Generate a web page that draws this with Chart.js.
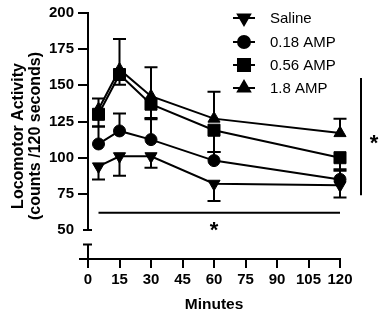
<!DOCTYPE html>
<html>
<head>
<meta charset="utf-8">
<script src="https://cdn.jsdelivr.net/npm/chart.js@4/dist/chart.umd.min.js"></script>
<style>
  html, body { margin: 0; padding: 0; background: #fff; }
  #wrap { width: 383px; height: 314px; }
</style>
</head>
<body>
<div id="wrap"><canvas id="loco-chart"></canvas></div>
<script>
const minutes = [5, 15, 30, 60, 120];
const xTicks = [0, 15, 30, 45, 60, 75, 90, 105, 120];
const yTicks = [50, 75, 100, 125, 150, 175, 200];

const saline = [94, 101, 101, 82, 81];
const amp018 = [109.5, 118.5, 112.5, 98, 85];
const amp056 = [130, 157.5, 137, 119, 100];
const amp18 = [133.5, 161, 142.5, 127, 117];

// SEM, drawn one side only (as in the figure)
const salineErr = [9, 13.5, 8, 12, 8.5];
const amp018Err = [12, 12, 14, 6, 6];
const amp056Err = [8.5, 7, 9.5, 15, 8];
const amp18Err = [7.5, 21, 20, 18.5, 10];

const seriesNames = ['Saline', '0.18 AMP', '0.56 AMP', '1.8 AMP'];

// significance marks, in data units
const timeSigFrom = 5, timeSigTo = 120, timeSigAt = 62;
const doseSigTop = 155, doseSigBottom = 74;

const ink = '#000';

function series(label, data, err, dir, style, radius, rotation) {
    return {
        label: label,
        data: minutes.map((m, i) => ({ x: m, y: data[i] })),
        err: err,
        errDir: dir,
        borderColor: ink,
        backgroundColor: ink,
        borderWidth: 2,
        pointStyle: style,
        pointRadius: radius,
        pointRotation: rotation,
        pointBackgroundColor: ink,
        pointBorderColor: ink,
        pointBorderWidth: 1,
        tension: 0,
        clip: false
    };
}

const datasets = [
    series(seriesNames[0], saline, salineErr, -1, 'triangle', 7, 180),
    series(seriesNames[1], amp018, amp018Err, 1, 'circle', 6, 0),
    series(seriesNames[2], amp056, amp056Err, -1, 'rect', 8.5, 0),
    series(seriesNames[3], amp18, amp18Err, 1, 'triangle', 7, 0)
];

const errorBars = {
    id: 'errorBars',
    beforeDatasetsDraw(chart) {
        const c = chart.ctx, xs = chart.scales.x, ys = chart.scales.y;
        c.save();
        c.strokeStyle = ink;
        c.lineWidth = 2;
        chart.data.datasets.forEach(ds => {
            ds.data.forEach((p, i) => {
                const x = xs.getPixelForValue(p.x);
                const y0 = ys.getPixelForValue(p.y);
                const y1 = ys.getPixelForValue(p.y + ds.errDir * ds.err[i]);
                c.beginPath();
                c.moveTo(x, y0); c.lineTo(x, y1);
                c.moveTo(x - 6.5, y1); c.lineTo(x + 6.5, y1);
                c.stroke();
            });
        });
        c.restore();
    }
};

const axesAndMarks = {
    id: 'axesAndMarks',
    afterDatasetsDraw(chart) {
        const c = chart.ctx, a = chart.chartArea;
        const xs = chart.scales.x, ys = chart.scales.y;
        c.save();
        c.strokeStyle = ink;
        c.fillStyle = ink;
        c.lineWidth = 2;
        c.lineCap = 'butt';

        // broken y axis
        const yTop = ys.getPixelForValue(200);
        const y50 = ys.getPixelForValue(50);
        const yLow = ys.getPixelForValue(40);
        c.beginPath();
        c.moveTo(a.left, yTop - 1); c.lineTo(a.left, y50);
        c.moveTo(a.left - 5, y50); c.lineTo(a.left + 4, y50);
        c.moveTo(a.left, yLow); c.lineTo(a.left, a.bottom);
        c.moveTo(a.left - 5, yLow); c.lineTo(a.left + 4, yLow);
        // x axis
        c.moveTo(a.left - 9, a.bottom); c.lineTo(a.right + 1, a.bottom);
        c.stroke();

        // time effect bar
        const ty = ys.getPixelForValue(timeSigAt);
        c.beginPath();
        c.moveTo(xs.getPixelForValue(timeSigFrom), ty);
        c.lineTo(xs.getPixelForValue(timeSigTo), ty);
        c.stroke();
        c.font = 'bold 22px "Liberation Sans", Arial, sans-serif';
        c.textAlign = 'center';
        c.textBaseline = 'middle';
        c.fillText('*', xs.getPixelForValue(60), ty + 18);

        // dose effect bar
        const vx = a.right + 21;
        c.beginPath();
        c.moveTo(vx, ys.getPixelForValue(doseSigTop));
        c.lineTo(vx, ys.getPixelForValue(doseSigBottom));
        c.stroke();
        c.fillText('*', vx + 13, (ys.getPixelForValue(doseSigTop) + ys.getPixelForValue(doseSigBottom)) / 2 + 7);

        // legend
        const lx = a.right - 96;
        const rows = [18, 42, 65, 88];
        c.font = '15px "Liberation Sans", Arial, sans-serif';
        c.textAlign = 'left';
        chart.data.datasets.forEach((ds, i) => {
            const ly = rows[i];
            c.beginPath();
            c.moveTo(lx - 11, ly); c.lineTo(lx + 11, ly);
            c.stroke();
            if (Chart.helpers && Chart.helpers.drawPoint) {
                Chart.helpers.drawPoint(c, {
                    pointStyle: ds.pointStyle,
                    rotation: ds.pointRotation,
                    radius: ds.pointRadius,
                    borderWidth: 1
                }, lx, ly);
                c.fill();
            }
            c.fillText(ds.label, lx + 26, ly + 1);
        });
        c.restore();
    }
};

const tickFont = { family: '"Liberation Sans", Arial, sans-serif', size: 15, weight: 'bold' };

new Chart(document.getElementById('loco-chart').getContext('2d'), {
    type: 'line',
    data: { datasets: datasets },
    options: {
        responsive: true,
        maintainAspectRatio: false,
        animation: false,
        layout: { padding: { top: 9, right: 43, left: 0, bottom: 0 } },
        plugins: { legend: { display: false }, tooltip: { enabled: false } },
        scales: {
            x: {
                type: 'linear',
                min: 0,
                max: 120,
                afterBuildTicks: s => { s.ticks = xTicks.map(v => ({ value: v })); },
                afterFit: s => { s.height = 55; },
                border: { display: false },
                grid: { drawOnChartArea: false, drawTicks: true, tickLength: 9, color: ink, lineWidth: 2 },
                ticks: { color: ink, font: tickFont, padding: 3, maxRotation: 0 },
                title: {
                    display: true,
                    text: 'Minutes',
                    color: ink,
                    font: { family: '"Liberation Sans", Arial, sans-serif', size: 15.5, weight: 'bold' },
                    padding: { top: 6, bottom: 0 }
                }
            },
            y: {
                min: 30,
                max: 200,
                afterBuildTicks: s => { s.ticks = [40].concat(yTicks).map(v => ({ value: v })); },
                afterFit: s => { s.width = 88; },
                border: { display: false },
                grid: {
                    drawOnChartArea: false,
                    drawTicks: true,
                    tickLength: 10,
                    lineWidth: 2,
                    color: ctx => (ctx.tick && ctx.tick.value >= 75 ? ink : 'rgba(0,0,0,0)')
                },
                ticks: {
                    color: ink,
                    font: tickFont,
                    padding: 4,
                    callback: v => (v >= 50 ? String(v) : '')
                },
                title: {
                    display: true,
                    text: ['Locomotor Activity', '(counts /120 seconds)'],
                    color: ink,
                    font: { family: '"Liberation Sans", Arial, sans-serif', size: 16, weight: 'bold', lineHeight: 1.05 },
                    padding: { top: 10, bottom: 0 }
                }
            }
        }
    },
    plugins: [errorBars, axesAndMarks]
});
</script>
</body>
</html>
